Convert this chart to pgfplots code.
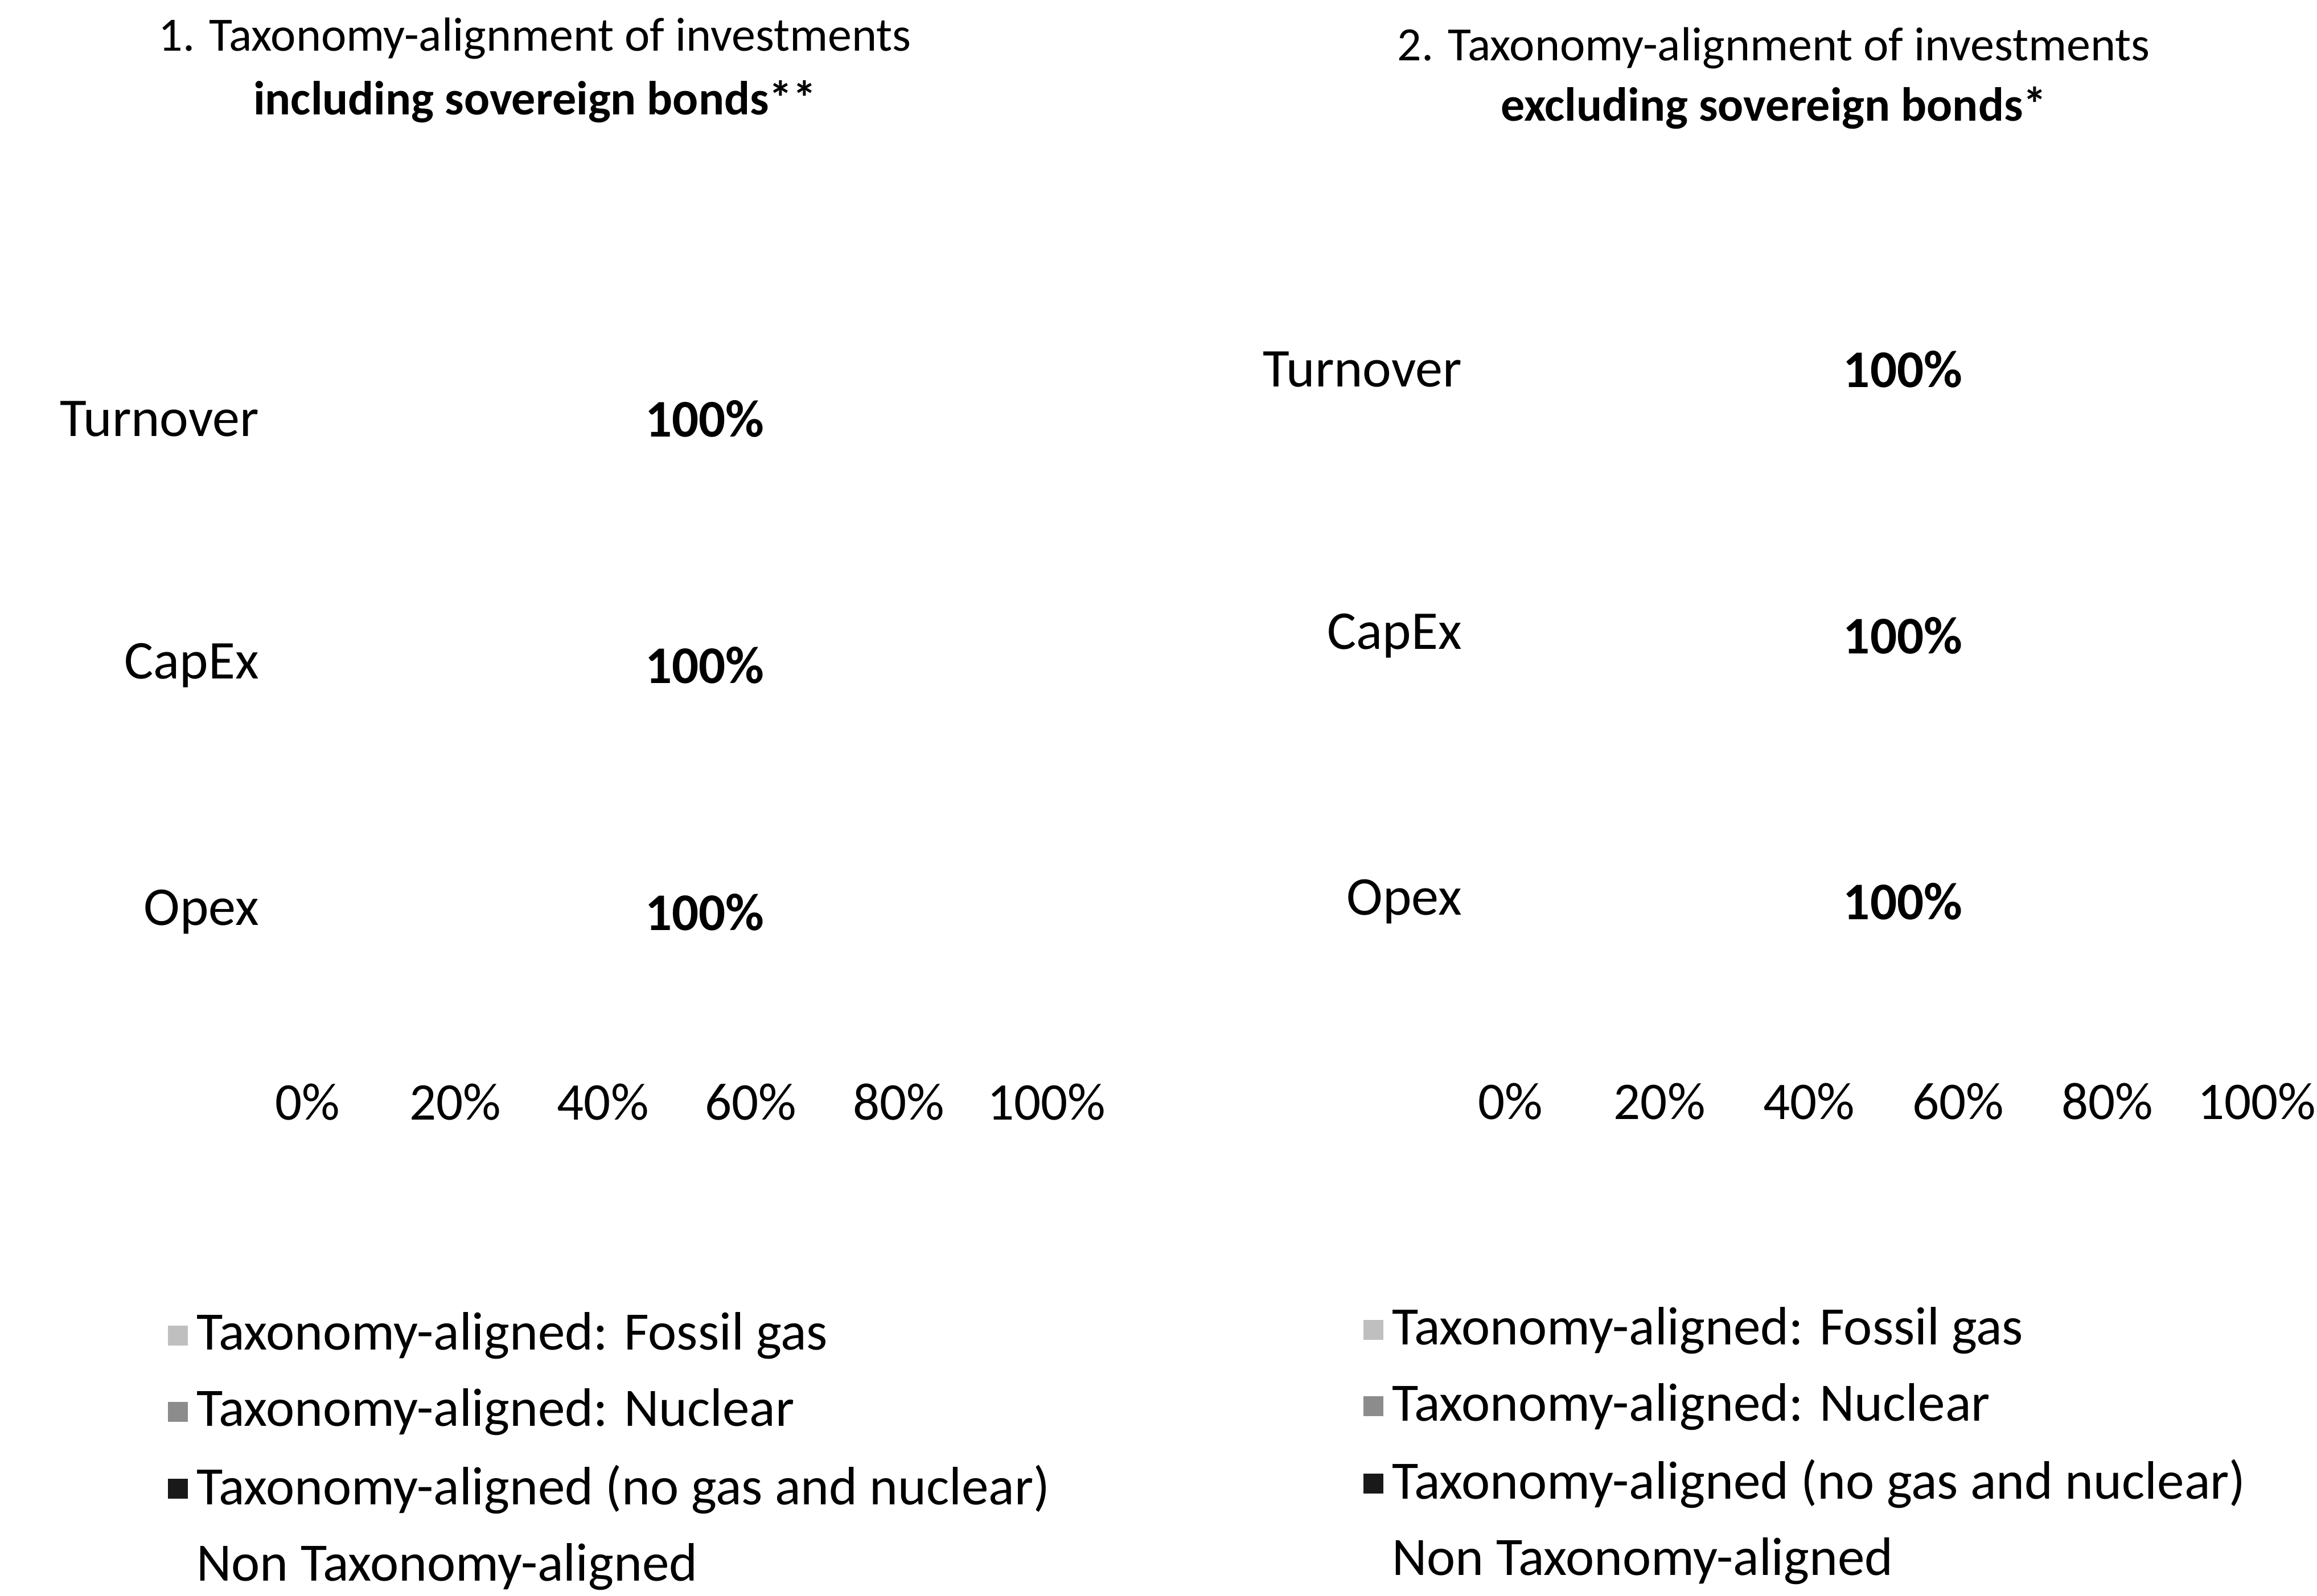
\documentclass[border=0pt]{standalone}
\usepackage{pgfplots}
\pgfplotsset{compat=1.18}
\usepackage{fontspec}
\setmainfont{Carlito}
\newcommand\f{\fontsize{9.3bp}{11.2bp}\selectfont}
\newcommand\ft{\fontsize{8.4bp}{11.2bp}\selectfont}
\newcommand\ftr{\fontsize{8.4bp}{10.6bp}\selectfont}
\newcommand\fl{\fontsize{9.5bp}{11.2bp}\selectfont}
\newcommand\fy{\fontsize{9.6bp}{11.2bp}\selectfont}
\definecolor{fossil}{gray}{0.75}
\definecolor{nuclear}{gray}{0.55}
\definecolor{aligned}{gray}{0.1}
\pgfplotsset{
  taxo/.style={
    scale only axis,
    xbar stacked,
    bar width=40bp,
    xmin=0, xmax=100,
    ymin=-0.5, ymax=2.5,
    y dir=reverse,
    ytick={0,1,2},
    yticklabels={Turnover,CapEx,Opex},
    xtick={0,20,40,60,80,100},
    xticklabel={\pgfmathprintnumber{\tick}\%},
    /pgf/number format/assume math mode=true,
    axis line style={draw=none},
    major tick length=0pt,
    tick label style={font=\f},
    yticklabel style={xshift=-5bp, font=\fy},
    xticklabel style={yshift=-5bp},
    title style={font=\ft, align=center, anchor=center},
    legend style={draw=none, fill=none, font=\fl, anchor=north west,
      row sep=2.3bp, inner sep=0pt, nodes={inner sep=1.5bp}},
    legend cell align=left,
    legend image code/.code={\draw[#1, draw=none] (0bp,-1.75bp) rectangle (3.5bp,1.75bp);},
    point meta=x,
  },
}
\begin{document}
\begin{tikzpicture}
\useasboundingbox (0,0) rectangle (407bp,280.4bp);
% Left panel
\begin{axis}[taxo,
  at={(54bp,98.5bp)}, width=129.8bp, height=130bp,
  title={1. Taxonomy-alignment of investments\\\textbf{including sovereign bonds**}},
  title style={at={(0.308,1.258)}},
  legend style={at={(-0.19,-0.3615)}},
]
\addplot[fill=fossil, draw=none] coordinates {(0,0) (0,1) (0,2)};
\addlegendentry{Taxonomy-aligned: Fossil gas}
\addplot[fill=nuclear, draw=none] coordinates {(0,0) (0,1) (0,2)};
\addlegendentry{Taxonomy-aligned: Nuclear}
\addplot[fill=aligned, draw=none] coordinates {(0,0) (0,1) (0,2)};
\addlegendentry{Taxonomy-aligned (no gas and nuclear)}
\addplot[fill=white, draw=none,
  nodes near coords={\textbf{\pgfmathprintnumber{\pgfplotspointmeta}\%}},
  every node near coord/.append style={font=\f, anchor=center, xshift=4.9bp, text=black}]
  coordinates {(100,0) (100,1) (100,2)};
\addlegendentry{Non Taxonomy-aligned}
\end{axis}
% Right panel
\begin{axis}[taxo,
  at={(265.3bp,98.6bp)}, width=131.1bp, height=140.25bp,
  title={2. Taxonomy-alignment of investments\\\textbf{excluding sovereign bonds*}},
  title style={at={(0.353,1.156)}, font=\ftr},
  legend style={at={(-0.198,-0.329)}},
]
\addplot[fill=fossil, draw=none] coordinates {(0,0) (0,1) (0,2)};
\addlegendentry{Taxonomy-aligned: Fossil gas}
\addplot[fill=nuclear, draw=none] coordinates {(0,0) (0,1) (0,2)};
\addlegendentry{Taxonomy-aligned: Nuclear}
\addplot[fill=aligned, draw=none] coordinates {(0,0) (0,1) (0,2)};
\addlegendentry{Taxonomy-aligned (no gas and nuclear)}
\addplot[fill=white, draw=none,
  nodes near coords={\textbf{\pgfmathprintnumber{\pgfplotspointmeta}\%}},
  every node near coord/.append style={font=\f, anchor=center, xshift=3.4bp, text=black}]
  coordinates {(100,0) (100,1) (100,2)};
\addlegendentry{Non Taxonomy-aligned}
\end{axis}
\end{tikzpicture}
\end{document}
